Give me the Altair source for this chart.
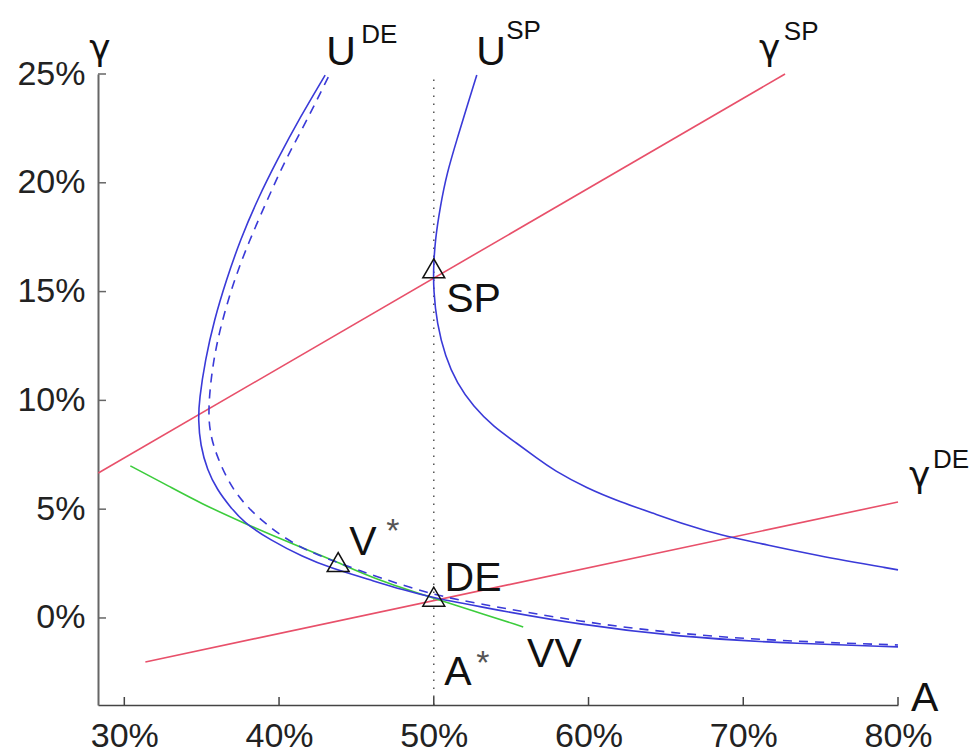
import altair as alt
import pandas as pd

# ---------------- data (percent units) ----------------
usp_x = [52.78, 52.14, 51.49, 50.85, 50.41, 50.09, 49.98, 49.98, 50.20, 50.74, 51.49, 52.56,
         53.86, 55.37, 56.66, 57.73, 59.89, 62.04, 64.19, 66.35, 68.50, 71.09, 74.51, 80.0]
usp_y = [24.95, 23.50, 21.97, 20.45, 18.89, 17.37, 16.13, 15.07, 13.54, 12.01, 10.79, 9.71,
         8.79, 8.03, 7.34, 6.80, 5.96, 5.34, 4.81, 4.27, 3.81, 3.43, 2.90, 2.21]

ude_x = [42.98, 41.37, 39.88, 38.59, 37.49, 36.59, 35.81, 35.23, 34.84, 34.78, 34.91, 35.36,
         36.01, 36.85, 37.69, 39.43, 41.56, 43.31, 45.89, 48.02, 49.96, 53.0, 59.46, 65.92,
         72.38, 80.0]
ude_y = [24.95, 23.02, 21.05, 19.21, 17.37, 15.53, 13.69, 11.86, 10.02, 9.10, 7.95, 6.80,
         5.88, 5.10, 4.41, 3.58, 2.80, 2.30, 1.75, 1.29, 0.92, 0.51, -0.32, -0.87,
         -1.15, -1.33]

uded_x = [43.18, 41.82, 40.40, 39.24, 38.01, 37.04, 36.20, 35.68, 35.43, 35.50, 35.88, 37.04,
          38.98, 41.18, 43.82, 46.54, 49.96, 53.0, 59.46, 65.92, 72.38, 80.0]
uded_y = [24.86, 22.89, 21.05, 19.21, 17.23, 15.40, 13.37, 11.53, 9.70, 8.64, 7.58, 5.74,
          4.37, 3.26, 2.53, 1.84, 1.06, 0.64, -0.18, -0.74, -1.06, -1.24]

gsp_x = [28.32, 72.70]
gsp_y = [6.66, 25.0]
gde_x = [31.36, 80.0]
gde_y = [-2.02, 5.33]

vv_x = [30.39, 32.97, 34.91, 37.69, 40.72, 43.76, 46.34, 49.96, 52.35, 55.78]
vv_y = [6.99, 6.02, 5.28, 4.37, 3.45, 2.57, 1.75, 0.92, 0.37, -0.41]

astar_x = [50.0, 50.0]
astar_y = [-4.0, 25.0]

pt_names = ["SP", "V*", "DE"]
pt_x = [50.0, 43.82, 50.0]
pt_y = [16.07, 2.57, 0.98]

big_text = ["U", "U", "SP", "V", "DE", "VV", "A", "A"]
big_x = [43.05, 52.75, 50.80, 44.53, 50.70, 56.03, 50.67, 80.84]
big_y = [25.41, 25.41, 14.06, 2.90, 1.24, -2.25, -3.08, -4.28]

gam_text = ["γ", "γ", "γ"]
gam_x = [71.02, 80.71, 27.74]
gam_y = [25.65, 6.02, 25.65]

sup_text = ["DE", "SP", "SP", "DE"]
sup_x = [45.31, 54.68, 72.62, 82.26]
sup_y = [26.42, 26.61, 26.56, 6.89]

ast_x = [46.93, 52.74]
ast_y = [3.49, -2.57]

x_ticks = [30, 40, 50, 60, 70, 80]
y_ticks = [0, 5, 10, 15, 20, 25]

# ---------------- frames ----------------
def curve(name, xs, ys):
    return pd.DataFrame({"series": name, "i": range(len(xs)), "x": xs, "y": ys})

blue_solid = pd.concat([curve("USP", usp_x, usp_y), curve("UDE", ude_x, ude_y)])
blue_dash = curve("UDEd", uded_x, uded_y)
red = pd.concat([curve("gSP", gsp_x, gsp_y), curve("gDE", gde_x, gde_y)])
green = curve("VV", vv_x, vv_y)
dotted = curve("Astar", astar_x, astar_y)
pts = pd.DataFrame({"name": pt_names, "x": pt_x, "y": pt_y})
big = pd.DataFrame({"t": big_text, "x": big_x, "y": big_y})
gam = pd.DataFrame({"t": gam_text, "x": gam_x, "y": gam_y})
sup = pd.DataFrame({"t": sup_text, "x": sup_x, "y": sup_y})
ast = pd.DataFrame({"t": ["*", "*"], "x": ast_x, "y": ast_y})
xt = pd.DataFrame({"v": x_ticks})
yt = pd.DataFrame({"v": y_ticks})

W, H = 800, 631
FONT = "Liberation Sans"

xs = alt.Scale(domain=[28.3, 80], nice=False, zero=False)
ys = alt.Scale(domain=[-4, 25], nice=False, zero=False)

X = alt.X("x:Q", scale=xs, title=None,
          axis=alt.Axis(values=x_ticks, labelExpr="datum.value + '%'", ticks=False, grid=False,
                        domainColor="#444", domainWidth=1.5, labelFontSize=34, labelFont=FONT,
                        labelColor="#222", labelPadding=14, labelFlush=False))
Y = alt.Y("y:Q", scale=ys, title=None,
          axis=alt.Axis(values=y_ticks, labelExpr="datum.value + '%'", ticks=False, grid=False,
                        domainColor="#666", domainWidth=2, labelFontSize=34, labelFont=FONT,
                        labelColor="#222", labelPadding=13))

base_x = alt.X("x:Q", scale=xs)
base_y = alt.Y("y:Q", scale=ys)

axes_layer = alt.Chart(pts).mark_point(opacity=0).encode(x=X, y=Y)

dot_layer = alt.Chart(dotted).mark_line(color="#555", strokeWidth=1.5, strokeDash=[1.5, 6.5]).encode(
    x=base_x, y=base_y, order="i:Q")

red_layer = alt.Chart(red).mark_line(color="#e8506a", strokeWidth=1.6).encode(
    x=base_x, y=base_y, detail="series:N", order="i:Q")

green_layer = alt.Chart(green).mark_line(color="#3ccc3c", strokeWidth=1.6, interpolate="basis").encode(
    x=base_x, y=base_y, order="i:Q")

blue_layer = alt.Chart(blue_solid).mark_line(color="#3a3ad8", strokeWidth=1.6, interpolate="basis").encode(
    x=base_x, y=base_y, detail="series:N", order="i:Q")

blue_dash_layer = alt.Chart(blue_dash).mark_line(color="#3a3ad8", strokeWidth=1.6, strokeDash=[9, 7],
                                                  interpolate="basis").encode(
    x=base_x, y=base_y, order="i:Q")

tri_layer = alt.Chart(pts).mark_point(shape="triangle-up", size=480, filled=False, color="#111",
                                      opacity=1, strokeWidth=1.5).encode(x=base_x, y=base_y)

xtick_layer = alt.Chart(xt).mark_rule(color="#444", strokeWidth=1.5).encode(
    x=alt.X("v:Q", scale=xs), y=alt.value(H), y2=alt.value(H - 8))
ytick_layer = alt.Chart(yt).mark_rule(color="#666", strokeWidth=1.5).encode(
    y=alt.Y("v:Q", scale=ys), x=alt.value(0), x2=alt.value(8))

big_layer = alt.Chart(big).mark_text(font=FONT, fontSize=41, align="left", baseline="alphabetic",
                                     color="#111").encode(x=base_x, y=base_y, text="t:N")
gam_layer = alt.Chart(gam).mark_text(font="DejaVu Sans", fontSize=36, align="left", baseline="alphabetic",
                                     color="#111").encode(x=base_x, y=base_y, text="t:N")
sup_layer = alt.Chart(sup).mark_text(font=FONT, fontSize=26, align="left", baseline="alphabetic",
                                     color="#111").encode(x=base_x, y=base_y, text="t:N")
ast_layer = alt.Chart(ast).mark_text(font=FONT, fontSize=34, align="left", baseline="alphabetic",
                                     color="#555").encode(x=base_x, y=base_y, text="t:N")

chart = alt.layer(
    axes_layer, dot_layer, red_layer, green_layer, blue_dash_layer, blue_layer, tri_layer,
    xtick_layer, ytick_layer, big_layer, gam_layer, sup_layer, ast_layer
).properties(
    width=W, height=H,
    background="white",
    autosize=alt.AutoSizeParams(type="none"),
    padding={"left": 98, "top": 74, "right": 79, "bottom": 49},
).configure_view(stroke="transparent", strokeWidth=0)

chart.save("out.html", embed_options={"renderer": "svg", "actions": False})
